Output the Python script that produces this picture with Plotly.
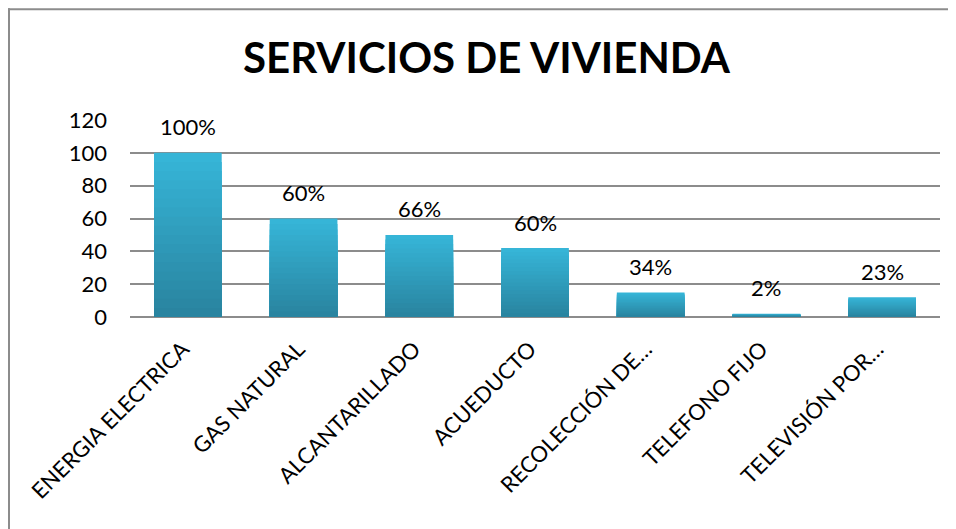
import plotly.graph_objects as go

categories = ["ENERGIA ELECTRICA", "GAS NATURAL", "ALCANTARILLADO", "ACUEDUCTO",
              "RECOLECCIÓN DE…", "TELEFONO FIJO", "TELEVISIÓN POR…"]
values = [100, 60, 50, 42, 15, 2, 12]
labels = ["100%", "60%", "66%", "60%", "34%", "2%", "23%"]
y_ticks = [0, 20, 40, 60, 80, 100, 120]

# page body has an 8px margin: work in window coords, offset by 8
OFF = 8
W, H = 956 - OFF, 529 - OFF
L, R, T, B = 130 - OFF, 16, 120 - OFF, 211.5
FONT = "Lato"

top_rgb = (54, 181, 215)
bot_rgb = (41, 132, 160)
n = 18

fig = go.Figure()
for k in range(n):
    f = 1 - k / n
    t = k / (n - 1)
    c = tuple(round(top_rgb[i] + (bot_rgb[i] - top_rgb[i]) * t) for i in range(3))
    fig.add_trace(go.Bar(
        x=categories,
        y=[v * f for v in values],
        marker=dict(color="rgb(%d,%d,%d)" % c, line=dict(width=0)),
        hoverinfo="skip",
        showlegend=False,
    ))

for cat, v, lab in zip(categories, values, labels):
    fig.add_annotation(x=cat, y=v, text=lab, showarrow=False, xref="x", yref="y",
                       yshift=26, font=dict(family=FONT, size=22, color="black"))

pw = W - L - R
ph = H - T - B
def px(x):  # window px -> paper
    return (x - OFF - L) / pw
def py(y):
    return (H - B - (y - OFF)) / ph

frame = dict(color="#8c8c8c", width=2)
fig.add_shape(type="line", xref="paper", yref="paper", x0=px(8), x1=px(970),
              y0=py(9), y1=py(9), line=frame)
fig.add_shape(type="line", xref="paper", yref="paper", x0=px(9), x1=px(9),
              y0=py(8), y1=py(540), line=frame)

fig.update_layout(
    width=W, height=H,
    margin=dict(l=L, r=R, t=T, b=B, autoexpand=False),
    barmode="overlay",
    bargap=0.415,
    plot_bgcolor="white",
    paper_bgcolor="white",
    title=dict(text="<b>SERVICIOS DE VIVIENDA</b>", x=(486.5 - OFF) / W, xanchor="center",
               y=1 - (58 - OFF) / H, yanchor="middle", yref="container",
               font=dict(family=FONT, size=42, color="black")),
    font=dict(family=FONT, color="black"),
    xaxis=dict(tickangle=-45, tickfont=dict(family=FONT, size=22, color="black"),
               showgrid=False, showline=False, ticks="", ticklabelstandoff=14,
               ticklabelshift=-5, fixedrange=True),
    yaxis=dict(range=[0, 120], tickvals=y_ticks, ticks="",
               tickfont=dict(family=FONT, size=22, color="black"),
               showgrid=True, gridcolor="#8c8c8c", gridwidth=1.5,
               zeroline=True, zerolinecolor="#8c8c8c", zerolinewidth=1.5,
               showline=False, ticklabelstandoff=22, layer="below traces"),
)

fig.write_html("out.html")
